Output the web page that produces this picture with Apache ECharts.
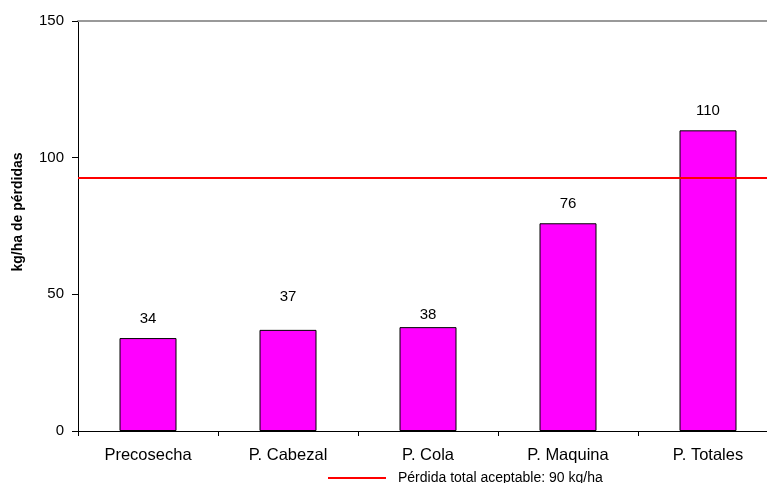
<!DOCTYPE html>
<html>
<head>
<meta charset="utf-8">
<script src="https://cdn.jsdelivr.net/npm/echarts@6/dist/echarts.min.js"></script>
<style>
html,body{margin:0;padding:0;background:#fff;overflow:hidden;width:767px;height:483px;}
#chart{width:778px;height:483px;}
</style>
</head>
<body>
<div id="chart"></div>
<script>
const categories = ['Precosecha', 'P. Cabezal', 'P. Cola', 'P. Maquina', 'P. Totales'];
const losses = [34, 37, 38, 76, 110];
const thresholdValue = 92.8;
const thresholdName = 'Pérdida total aceptable: 90 kg/ha';
const yTicks = { min: 0, max: 150, interval: 50 };
const yTitle = 'kg/ha de pérdidas';

// label vertical nudges (style only)
const labelNudge = [0, -14, 7, 0, 0];

const FONT = '"Liberation Sans", Arial, sans-serif';
const chart = echarts.init(document.getElementById('chart'), null, { renderer: 'canvas' });

const option = {
  animation: false,
  backgroundColor: '#ffffff',
  textStyle: { fontFamily: FONT, color: '#000' },
  grid: { left: 78, top: 21, right: 0, bottom: 52, containLabel: false },
  xAxis: [{
    type: 'category',
    data: categories,
    boundaryGap: true,
    axisLine: { show: true, lineStyle: { color: '#000', width: 1 } },
    axisTick: { show: true, length: 5, alignWithLabel: false, lineStyle: { color: '#000' } },
    axisLabel: { color: '#000', fontSize: 16.5, fontFamily: FONT, margin: 16, interval: 0 },
    splitLine: { show: false }
  }, {
    type: 'category',
    position: 'top',
    data: categories,
    axisLine: { show: true, lineStyle: { color: '#999', width: 2 } },
    axisTick: { show: false },
    axisLabel: { show: false }
  }],
  yAxis: {
    type: 'value',
    min: yTicks.min, max: yTicks.max, interval: yTicks.interval,
    axisLine: { show: true, lineStyle: { color: '#000', width: 1 } },
    axisTick: { show: true, length: 6, lineStyle: { color: '#000' } },
    axisLabel: { color: '#000', fontSize: 15, fontFamily: FONT, margin: 14 },
    splitLine: { show: false }
  },
  legend: {
    data: [{ name: thresholdName, icon: 'rect' }],
    left: 323, top: 466,
    itemWidth: 58, itemHeight: 2,
    textStyle: { fontSize: 14, fontFamily: FONT, color: '#000', padding: [0, 0, 0, 7] },
    selectedMode: false
  },
  graphic: [{
    type: 'text',
    x: 18, y: 212,
    rotation: Math.PI / 2,
    style: {
      text: yTitle,
      font: 'bold 14px ' + FONT,
      fill: '#000',
      align: 'center',
      verticalAlign: 'middle'
    }
  }],
  series: [{
    name: 'Pérdidas',
    type: 'bar',
    data: losses.map((v, i) => ({ value: v, label: { offset: [0, labelNudge[i]] } })),
    barWidth: 57,
    itemStyle: { color: '#FF00FF', borderColor: '#000', borderWidth: 1 },
    label: { show: true, position: 'top', distance: 12, color: '#000', fontSize: 15, fontFamily: FONT },
    z: 2
  }, {
    name: thresholdName,
    type: 'line',
    data: [],
    itemStyle: { color: '#FF0000' },
    lineStyle: { color: '#FF0000', width: 2 },
    z: 5,
    markLine: {
      silent: true,
      symbol: ['none', 'none'],
      label: { show: false },
      lineStyle: { color: '#FF0000', width: 2, type: 'solid' },
      data: [{ yAxis: thresholdValue }]
    }
  }]
};
chart.setOption(option);
</script>
</body>
</html>
